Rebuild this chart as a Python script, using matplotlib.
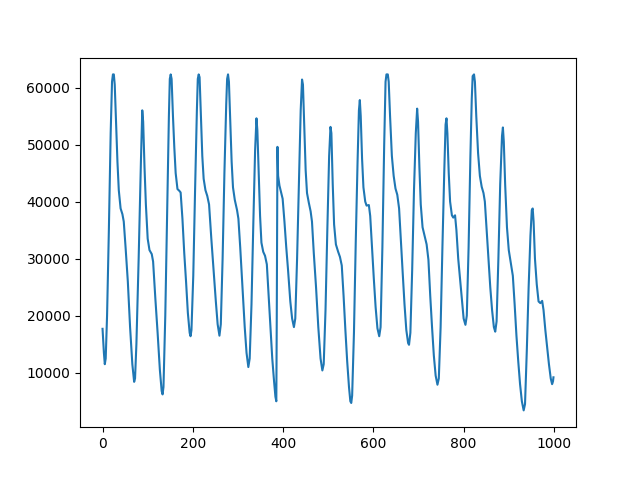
import matplotlib
matplotlib.use("Agg")
import matplotlib.pyplot as plt

pts = [(0,17700),(3,13500),(5,11500),(7,12500),(10,20000),(14,35000),(18,52000),(21,61000),(23,62300),(25,62300),(27,60500),(30,54000),(33,47000),(36,42000),(40,38800),(44,37800),(47,36500),(51,32000),(56,26000),(61,18000),(66,11500),(70,8400),(72,9000),(75,15000),(80,30000),(85,47000),(88,56000),(90,54000),(93,46000),(96,39500),(100,33500),(104,31500),(109,30800),(112,29500),(117,23000),(122,17000),(127,10500),(131,6800),(133,6200),(135,7500),(139,20000),(143,38000),(147,55000),(149,61500),(151,62300),(153,61500),(156,55000),(159,49500),(162,45000),(166,42200),(170,41900),(173,41600),(177,37000),(181,31000),(185,26000),(189,20500),(193,17000),(195,16400),(197,17500),(201,27000),(205,42000),(209,56000),(211,61500),(213,62300),(215,61800),(218,55000),(221,48000),(224,44000),(228,42000),(232,41000),(236,39500),(241,33500),(246,28000),(251,22500),(255,18500),(259,16500),(262,18500),(266,30000),(270,45000),(274,57000),(276,61500),(278,62300),(280,61000),(283,54000),(286,47000),(289,42500),(293,40300),(298,38500),(301,37000),(305,32000),(310,25000),(315,18000),(319,13500),(323,11000),(326,12500),(330,22000),(334,36000),(338,49000),(341,54600),(343,52500),(346,45000),(349,37500),(352,32800),(356,31200),(360,30500),(364,29000),(368,23500),(372,18000),(376,12500),(380,8500),(383,5800),(385,5000),(386,20000),(387.5,49600),(389,44500),(392,42800),(396,41500),(399,40500),(403,36500),(407,32000),(411,28000),(416,22500),(420,19500),(424,18000),(427,19500),(431,30000),(435,43000),(439,56000),(442,61400),(444,60500),(447,53000),(450,45500),(453,41500),(457,39800),(461,38300),(464,36500),(468,31000),(473,25000),(478,18000),(483,12500),(487,10400),(490,11500),(494,21000),(498,35000),(502,48000),(505,53100),(507,52000),(510,43000),(513,36000),(517,32500),(522,31200),(526,30300),(530,28800),(534,23500),(538,17500),(542,12000),(546,7500),(549,5000),(551,4700),(553,6000),(557,17000),(561,33000),(565,47000),(568,56000),(570,57800),(572,55000),(575,47500),(578,42500),(582,40000),(585,39300),(590,39400),(593,37500),(597,32000),(601,26500),(605,21500),(609,17800),(613,16400),(616,18000),(620,32000),(624,50000),(627,61000),(629,62300),(632,62300),(634,61000),(637,55000),(641,48000),(645,44500),(649,42300),(653,41200),(657,38800),(661,33000),(665,27500),(669,22000),(673,17500),(677,15200),(679,14900),(682,17000),(686,28000),(690,42000),(694,52000),(697,56300),(699,54000),(702,46000),(705,39500),(709,35500),(714,33800),(718,32500),(722,29800),(726,23500),(730,18000),(734,13000),(738,9500),(742,7900),(745,9000),(749,18000),(753,32000),(757,45000),(760,53500),(762,54600),(764,52000),(767,45000),(770,40000),(774,37600),(777,37200),(781,37600),(784,35000),(788,30000),(792,26500),(796,23000),(800,19500),(804,18400),(807,20000),(811,32000),(815,48000),(818,58000),(820,62000),(823,62300),(825,61000),(828,55000),(832,48500),(836,44500),(840,42600),(844,41500),(847,40000),(851,35000),(855,30000),(859,25000),(863,21000),(867,18000),(870,17200),(873,19000),(877,30000),(881,43000),(885,51500),(887,53000),(889,50500),(892,43000),(896,35500),(900,31500),(905,29000),(909,27000),(913,22000),(917,16500),(921,12000),(925,8000),(929,5000),(933,3400),(936,4500),(940,14000),(944,25000),(948,34000),(951,38500),(953,38800),(955,36500),(958,30000),(962,25500),(966,22500),(970,22200),(974,22600),(977,21000),(981,17500),(985,14500),(989,11500),(993,9000),(996,8000),(998,8500),(999,9200)]

x = [p[0] for p in pts]
y = [p[1] for p in pts]

fig, ax = plt.subplots(figsize=(6.4, 4.8), dpi=100)
ax.plot(x, y)
fig.savefig("out.png")
